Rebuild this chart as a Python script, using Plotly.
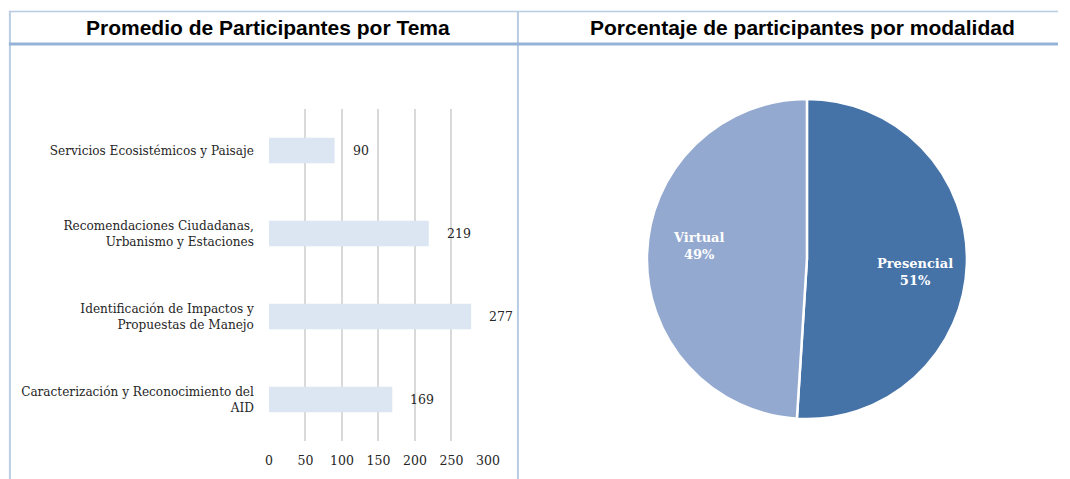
import math
import plotly.graph_objects as go

# ---- data ----
temas = [
    "Caracterización y Reconocimiento del<br>AID",
    "Identificación de Impactos y<br>Propuestas de Manejo",
    "Recomendaciones Ciudadanas,<br>Urbanismo y Estaciones",
    "Servicios Ecosistémicos y Paisaje",
]
promedios = [169, 277, 219, 90]
x_ticks = [0, 50, 100, 150, 200, 250, 300]

modalidades = ["Presencial", "Virtual"]
porcentajes = [51, 49]
pie_colors = ["#4572a7", "#93a9cf"]

title_left = "Promedio de Participantes por Tema"
title_right = "Porcentaje de participantes por modalidad"

W, H = 1070, 479
def px(x):
    # target pixel -> paper fraction (small horizontal correction for the capture)
    return ((x - 3.1) / 0.985) / W
def py(y):
    return 1 - y / H

SERIF = "DejaVu Serif"
fig = go.Figure()

fig.add_trace(go.Bar(
    x=promedios, y=temas, orientation="h",
    marker=dict(color="#dce6f2", line=dict(width=0)),
    hoverinfo="skip", showlegend=False,
    xaxis="x", yaxis="y",
))

annots = []
for v, t in zip(promedios, temas):
    annots.append(dict(x=v, y=t, xref="x", yref="y", text=str(v),
                       showarrow=False, xanchor="left", xshift=16,
                       font=dict(family=SERIF, size=12.5, color="#262626")))

cx, cy, R = 806, 259, 160
fig.add_trace(go.Pie(
    labels=modalidades, values=porcentajes,
    sort=False, direction="clockwise", rotation=0,
    marker=dict(colors=pie_colors, line=dict(color="white", width=2.5)),
    textinfo="none",
    domain=dict(x=[px(cx - R), px(cx + R)], y=[py(cy + R), py(cy - R)]),
    showlegend=False, hoverinfo="skip",
))

total = sum(porcentajes)
start = 0.0
for lab, val in zip(modalidades, porcentajes):
    mid = start + val / total * 360 / 2 + 5
    start += val / total * 360
    a = math.radians(mid)
    lx = cx + 0.69 * 157 * math.sin(a)
    ly = cy - 0.69 * 157 * math.cos(a)
    annots.append(dict(x=px(lx), y=py(ly), xref="paper", yref="paper",
                       text="<b>%s<br>%d%%</b>" % (lab, val), showarrow=False,
                       xanchor="center", yanchor="middle",
                       font=dict(family=SERIF, size=13, color="white")))

line_c = "#b8cce4"
shapes = [
    dict(type="line", xref="paper", yref="paper", x0=px(8), x1=1, y0=py(11.5), y1=py(11.5),
         line=dict(color=line_c, width=1.5)),
    dict(type="line", xref="paper", yref="paper", x0=px(9), x1=px(9), y0=py(11), y1=0,
         line=dict(color=line_c, width=2)),
    dict(type="line", xref="paper", yref="paper", x0=px(517), x1=px(517), y0=py(11), y1=0,
         line=dict(color=line_c, width=2)),
    dict(type="line", xref="paper", yref="paper", x0=px(8), x1=1, y0=py(44), y1=py(44),
         line=dict(color="#95b3d7", width=3)),
]

title_font = dict(family="Liberation Sans Narrow, Arial Narrow, Liberation Sans", size=21, color="black")
annots += [
    dict(text="<b>" + title_left + "</b>", x=px(267), y=py(28), xref="paper", yref="paper",
         showarrow=False, xanchor="center", yanchor="middle", font=title_font),
    dict(text="<b>" + title_right + "</b>", x=px(802), y=py(28), xref="paper", yref="paper",
         showarrow=False, xanchor="center", yanchor="middle", font=title_font),
]

fig.update_layout(
    width=W, height=H,
    margin=dict(l=0, r=0, t=0, b=0),
    paper_bgcolor="white", plot_bgcolor="white",
    shapes=shapes,
    xaxis=dict(domain=[px(268), px(487)], range=[0, 300], tickvals=x_ticks,
               showgrid=True, gridcolor="#d9d9d9", gridwidth=2, zeroline=False,
               showline=False, ticks="", ticklabelstandoff=10,
               tickfont=dict(family=SERIF, size=12.5, color="#262626"),
               fixedrange=True),
    yaxis=dict(domain=[py(441), py(109)], categoryorder="array", categoryarray=temas,
               showgrid=False, zeroline=False, showline=False, ticks="",
               ticklabelstandoff=14,
               tickfont=dict(family=SERIF, size=12.1, color="#262626"),
               fixedrange=True),
    bargap=0.69,
    annotations=annots,
)

post = (
    "var s=document.createElement('style');"
    "s.innerHTML='html,body{margin:0;padding:0;width:1070px;height:479px;overflow:hidden;}';"
    "document.head.appendChild(s);"
)
fig.write_html("out.html", config={"displayModeBar": False}, post_script=post)
